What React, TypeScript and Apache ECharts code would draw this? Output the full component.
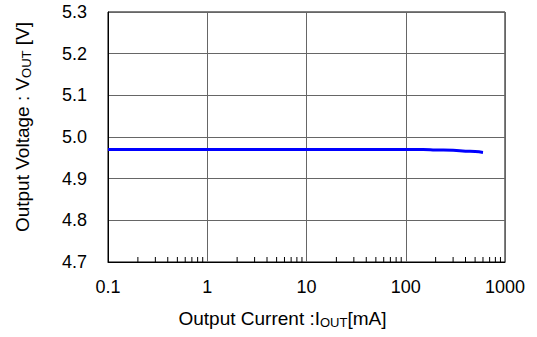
import React, { useEffect, useRef } from "react";
import * as echarts from "echarts";

const currents = [0.1, 0.2, 0.5, 1, 3, 10, 30, 100, 150, 200, 300, 400, 500, 600];
const voltages = [4.970, 4.970, 4.970, 4.970, 4.970, 4.970, 4.970, 4.970, 4.970, 4.969, 4.968, 4.966, 4.965, 4.963];
const minorTickValues = [
  0.2, 0.3, 0.4, 0.5, 0.6, 0.7, 0.8, 0.9,
  2, 3, 4, 5, 6, 7, 8, 9,
  20, 30, 40, 50, 60, 70, 80, 90,
  200, 300, 400, 500, 600, 700, 800, 900,
];
const yMin = 4.7;
const yMax = 5.3;
const yStep = 0.1;
const xMin = 0.1;
const xMax = 1000;

const FONT = "'Liberation Sans', Arial, Helvetica, sans-serif";

export default function App() {
  const ref = useRef<HTMLDivElement>(null);
  useEffect(() => {
    if (!ref.current) return;
    const chart = echarts.init(ref.current, undefined, { renderer: "svg" });
    const lineData = currents.map((c, i) => [c, voltages[i]]);
    const tickData = minorTickValues.map((v) => [v, yMin]);
    chart.setOption({
      animation: false,
      backgroundColor: "#ffffff",
      textStyle: { fontFamily: FONT },
      grid: {
        left: 108,
        right: 32,
        top: 12,
        bottom: 75,
        show: true,
        borderColor: "#000",
        borderWidth: 1,
        backgroundColor: "transparent",
      },
      xAxis: {
        type: "log",
        logBase: 10,
        min: xMin,
        max: xMax,
        name: "{m|Output Current :I}{s|OUT}{m|[mA]}",
        nameLocation: "middle",
        nameGap: 45,
        nameTextStyle: {
          padding: [0, 48, 0, 0],
          rich: {
            m: { fontSize: 19, fontFamily: FONT, color: "#000", lineHeight: 22, verticalAlign: "middle" },
            s: { fontSize: 13, fontFamily: FONT, color: "#000", lineHeight: 13, verticalAlign: "bottom" },
          },
        },
        axisLine: { show: true, lineStyle: { color: "#000", width: 1 } },
        axisTick: { show: false },
        minorTick: { show: false },
        axisLabel: {
          color: "#000",
          fontSize: 18,
          fontFamily: FONT,
          margin: 16,
          formatter: (v: number) => String(v),
        },
        splitLine: { show: true, lineStyle: { color: "#666", width: 1 } },
      },
      yAxis: {
        type: "value",
        min: yMin,
        max: yMax,
        interval: yStep,
        name: "{m|Output Voltage : V}{s|OUT}{m| [V]}",
        nameLocation: "middle",
        nameRotate: 90,
        nameGap: 75,
        nameTextStyle: {
          padding: [0, 0, 0, 20],
          rich: {
            m: { fontSize: 19, fontFamily: FONT, color: "#000", lineHeight: 22, verticalAlign: "middle" },
            s: { fontSize: 13, fontFamily: FONT, color: "#000", lineHeight: 13, verticalAlign: "bottom" },
          },
        },
        axisLine: { show: true, lineStyle: { color: "#000", width: 1 } },
        axisTick: { show: false },
        axisLabel: {
          color: "#000",
          fontSize: 18,
          fontFamily: FONT,
          margin: 21,
          formatter: (v: number) => v.toFixed(1),
        },
        splitLine: { show: true, lineStyle: { color: "#666", width: 1 } },
      },
      series: [
        {
          type: "custom",
          coordinateSystem: "cartesian2d",
          data: tickData,
          encode: { x: 0, y: 1 },
          silent: true,
          clip: false,
          z: 5,
          renderItem: (params: any, api: any) => {
            const p = api.coord([api.value(0), api.value(1)]);
            return {
              type: "line",
              shape: { x1: p[0], y1: p[1], x2: p[0], y2: p[1] - 5 },
              style: { stroke: "#000", lineWidth: 1 },
            };
          },
        },
        {
          type: "line",
          data: lineData,
          showSymbol: false,
          smooth: true,
          lineStyle: { color: "#0000ff", width: 3 },
          itemStyle: { color: "#0000ff" },
          z: 10,
        },
      ],
    });
    return () => chart.dispose();
  }, []);
  return (
    <div
      ref={ref}
      style={{ position: "fixed", left: 0, top: 0, width: 537, height: 337 }}
    />
  );
}
